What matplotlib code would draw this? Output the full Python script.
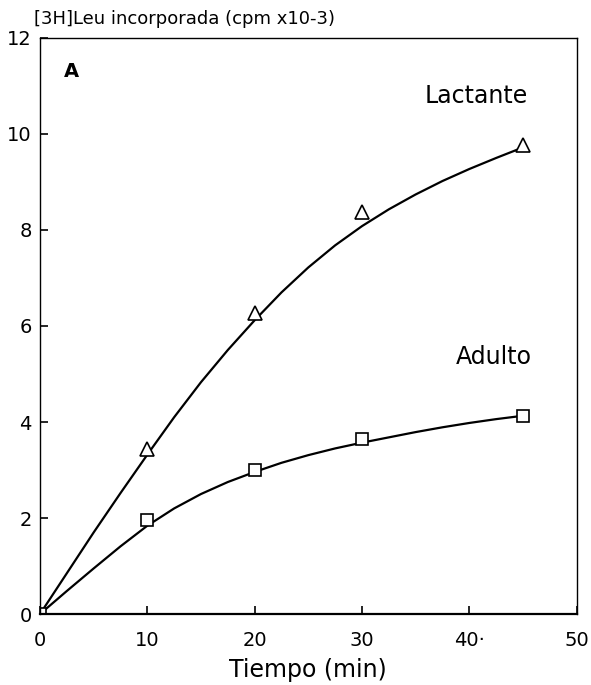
import matplotlib.pyplot as plt

# measured points
t_points = [0, 10, 20, 30, 45]
lactante = [0.0, 3.44, 6.28, 8.38, 9.78]
adulto = [0.0, 1.96, 3.0, 3.64, 4.13]

# fitted curves
t_curve = [0, 2.5, 5, 7.5, 10, 12.5, 15, 17.5, 20, 22.5, 25, 27.5, 30,
           32.5, 35, 37.5, 40, 42.5, 45]
lactante_curve = [0.0, 0.85, 1.7, 2.52, 3.32, 4.1, 4.83, 5.5, 6.12, 6.7,
                  7.22, 7.68, 8.08, 8.43, 8.74, 9.02, 9.27, 9.5, 9.72]
adulto_curve = [0.0, 0.48, 0.95, 1.41, 1.84, 2.2, 2.5, 2.75, 2.96, 3.15,
                3.31, 3.45, 3.57, 3.68, 3.79, 3.89, 3.98, 4.06, 4.13]

x_ticks = [0, 10, 20, 30, 40, 50]
x_ticklabels = ["0", "10", "20", "30", "40·", "50"]
y_ticks = [0, 2, 4, 6, 8, 10, 12]

plt.rcParams["font.family"] = ["DejaVu Sans"]

fig = plt.figure(figsize=(5.91, 6.85), dpi=100)
ax = fig.add_axes([0.0677, 0.1036, 0.908, 0.841])

ax.plot(t_curve, lactante_curve, color="black", lw=1.6)
ax.plot(t_curve, adulto_curve, color="black", lw=1.6)
ax.plot(t_points, lactante, linestyle="none", marker="^", ms=10,
        mfc="white", mec="black", mew=1.2)
ax.plot(t_points, adulto, linestyle="none", marker="s", ms=9,
        mfc="white", mec="black", mew=1.2)

ax.set_xlim(0, 50)
ax.set_ylim(0, 12)
ax.set_xticks(x_ticks)
ax.set_xticklabels(x_ticklabels)
ax.set_yticks(y_ticks)
ax.tick_params(direction="in", length=6, width=1.2, labelsize=14)
ax.tick_params(axis="x", pad=12)
ax.tick_params(axis="y", pad=6)
for side in ["left", "right", "top"]:
    ax.spines[side].set_linewidth(1.0)
ax.spines["bottom"].set_linewidth(1.6)

ax.set_xlabel("Tiempo (min)", fontsize=17, labelpad=6)
fig.text(0.057, 0.972, "[3H]Leu incorporada (cpm x10-3)", fontsize=13,
         ha="left", va="center")

ax.text(2.2, 11.3, "A", fontsize=14, weight="bold", ha="left", va="center")
ax.text(45.5, 10.8, "Lactante", fontsize=17, ha="right", va="center")
ax.text(45.8, 5.35, "Adulto", fontsize=17, ha="right", va="center")

fig.savefig("out.png", dpi=100, facecolor="white")
